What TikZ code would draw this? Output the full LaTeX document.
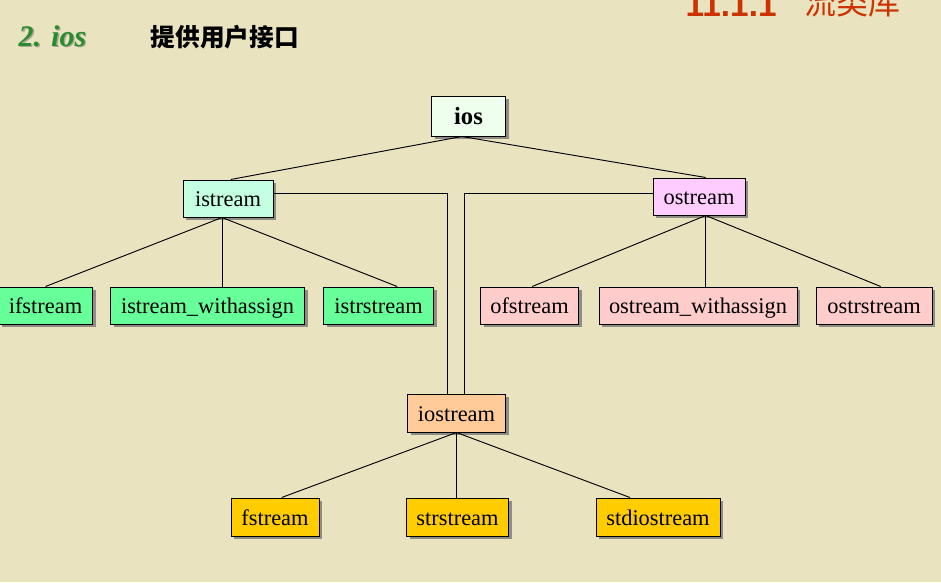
\documentclass[tikz,border=0pt]{standalone}
\usepackage{fontspec}
\setmainfont{Liberation Serif}
\newfontfamily\cjk{Noto Sans CJK SC}
\newfontfamily\hsans{Liberation Sans}
\usetikzlibrary{positioning,calc,shadows}
\definecolor{bg}{HTML}{E9E3C0}
\definecolor{ttlgreen}{HTML}{2A8C2E}
\definecolor{ttlred}{HTML}{CC3300}
\definecolor{shad}{HTML}{8E8C84}
\definecolor{froot}{HTML}{EEFFEE}
\definecolor{fin}{HTML}{C4FFE2}
\definecolor{fout}{HTML}{FFCCFF}
\definecolor{finch}{HTML}{66FF99}
\definecolor{foutch}{HTML}{FFCCCC}
\definecolor{fio}{HTML}{FFCC99}
\definecolor{fioch}{HTML}{FFCC00}
\tikzset{
  cls/.style={draw=black, line width=0.75pt, inner sep=2pt, font=\fontsize{16.8}{19}\selectfont,
              minimum height=27.75pt, text height=14pt, text depth=2pt,
              drop shadow={shadow xshift=2.6pt, shadow yshift=-2.6pt, fill=shad, opacity=1}},
  clsin/.style={cls, fill=finch},
  clsout/.style={cls, fill=foutch},
  clsio/.style={cls, fill=fioch, minimum height=28.5pt},
  link/.style={draw=black, line width=0.7pt},
}
\begin{document}
\begin{tikzpicture}[x=0.75pt,y=-0.75pt]
  \useasboundingbox (0,0) rectangle (941,582);
  \clip (0,0) rectangle (941,582);
  \fill[bg] (0,0) rectangle (941,582);
  % --- titles ---
  \node[anchor=base west,font=\fontsize{22.5}{26}\selectfont\bfseries\itshape,text=shad!70!bg] (ttlshd) at (15.3,47){2. ios};
  \node[anchor=base west,font=\fontsize{22.5}{26}\selectfont\bfseries\itshape,text=ttlgreen] (ttl) at (14,46){2. ios};
  \node[anchor=base west,font=\cjk\bfseries\fontsize{18.5}{22}\selectfont] (sub) at (146,46){提供用户接口};
  \node[anchor=base west,font=\hsans\bfseries\fontsize{25}{28}\selectfont,text=ttlred] (sec) at (681,16){11.1.1};
  \node[anchor=base west,font=\cjk\fontsize{24}{28}\selectfont,text=ttlred] (secname) at (800,14){流类库};
  % --- root ---
  \node[cls, fill=froot, font=\fontsize{18.5}{21}\selectfont\bfseries, minimum width=56pt, minimum height=30pt] (ios) at (468.5,116){ios};
  \node[cls, fill=fin, minimum width=67.5pt] (istream) at (228,198.5){istream};
  \node[cls, fill=fout, minimum width=69pt] (ostream) at (699,196.5){ostream};
  % --- input side ---
  \node[clsin, minimum width=70pt] (ifs) at (45.5,305.5){ifstream};
  \node[clsin, minimum width=145pt] (iswa) at (207.5,305.5){istream\_withassign};
  \node[clsin, minimum width=82pt] (istr) at (378.5,305.5){istrstream};
  % --- output side ---
  \node[clsout, minimum width=74pt] (ofs) at (529.5,305.5){ofstream};
  \node[clsout, minimum width=148.5pt] (oswa) at (698,305.5){ostream\_withassign};
  \node[clsout, minimum width=87pt] (ostr) at (874,305.5){ostrstream};
  % --- iostream ---
  \node[clsio, fill=fio, minimum width=74pt] (iostream) at (456.5,413){iostream};
  \node[clsio, minimum width=66pt] (fs) at (275,517){fstream};
  \node[clsio, minimum width=77pt] (strs) at (457.5,517){strstream};
  \node[clsio, minimum width=93pt] (stdios) at (658,517){stdiostream};
  % --- connectors ---
  \draw[link] ([xshift=-5pt]ios.south) -- ([xshift=2pt]istream.north);
  \draw[link] ([xshift=-5pt]ios.south) -- ([xshift=5pt]ostream.north);
  \draw[link] ([xshift=-4.5pt]istream.south) -- (ifs.north);
  \draw[link] ([xshift=-4.5pt]istream.south) -- ([xshift=-4.5pt]istream.south |- iswa.north);
  \draw[link] ([xshift=-4.5pt]istream.south) -- ([xshift=14pt]istr.north);
  \draw[link] ([xshift=5pt]ostream.south) -- ([xshift=2pt]ofs.north);
  \draw[link] ([xshift=5pt]ostream.south) -- ([xshift=5pt]ostream.south |- oswa.north);
  \draw[link] ([xshift=5pt]ostream.south) -- ([xshift=5pt]ostr.north);
  \draw[link] ([yshift=3.5pt]istream.east) -| ([xshift=-7pt]iostream.north);
  \draw[link] ([yshift=2pt]ostream.west) -| ([xshift=5.6pt]iostream.north);
  \draw[link] (iostream.south) -- ([xshift=5pt]fs.north);
  \draw[link] (iostream.south) -- (iostream.south |- strs.north);
  \draw[link] (iostream.south) -- ([xshift=-21pt]stdios.north);
\end{tikzpicture}
\end{document}
